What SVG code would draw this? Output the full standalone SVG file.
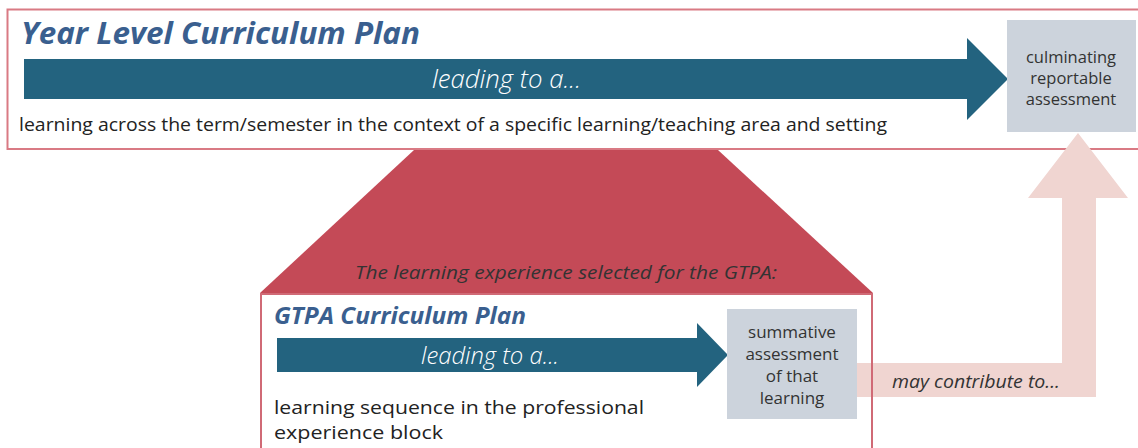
<svg xmlns="http://www.w3.org/2000/svg" width="1138" height="448" viewBox="0 0 1138 448">
<style>
.t{font-family:"Open Sans","Liberation Sans",sans-serif}
.title{font-weight:700;font-style:italic;fill:#3a5f8f}
.lead{font-style:italic;font-weight:300;fill:#ffffff}
.body{fill:#222}
.box{fill:#ccd3dc}
.boxt{fill:#333;text-anchor:middle}
.teal{fill:#23637f}
.pink{fill:#f0d5d1}
</style>
<rect width="1138" height="448" fill="#ffffff"/>
<g id="year-plan">
<rect x="7.5" y="9.5" width="1140" height="139.5" fill="#ffffff" stroke="#d97a84" stroke-width="2"/>
<text class="t title" x="21" y="44" font-size="30" textLength="399" lengthAdjust="spacingAndGlyphs">Year Level Curriculum Plan</text>
<text class="t body" x="19" y="131" font-size="18" textLength="868" lengthAdjust="spacingAndGlyphs">learning across the term/semester in the context of a specific learning/teaching area and setting</text>
</g>
<g id="connectors">
<path id="year-arrow" class="teal" d="M24 59 H967 V38 L1008 79 L967 120 V99 H24 Z"/>
<path id="contribute-arrow" class="pink" d="M845 363 H1062 V198 H1028 L1078 133 L1128 198 H1096 V397 H845 Z"/>
<path id="gtpa-arrow" class="teal" d="M277 338 H697 V323 L728 355 L697 387 V372 H277 Z"/>
</g>
<text class="t lead" x="432" y="88" font-size="25" textLength="149" lengthAdjust="spacingAndGlyphs">leading to a...</text>
<text class="t" x="892" y="388" font-size="18" font-style="italic" fill="#333" textLength="168" lengthAdjust="spacingAndGlyphs">may contribute to...</text>
<g id="selection">
<path d="M414 150 H718 L873 293 H260 Z" fill="#c44a57"/>
<text class="t" x="355" y="279" font-size="19" font-style="italic" fill="#333" textLength="422" lengthAdjust="spacingAndGlyphs">The learning experience selected for the GTPA:</text>
</g>
<g id="gtpa-plan">
<path d="M872 294 V448 M261 294 V448 M260 294 H873" fill="none" stroke="#d06a76" stroke-width="2"/>
<text class="t title" x="274" y="324" font-size="24" textLength="252" lengthAdjust="spacingAndGlyphs">GTPA Curriculum Plan</text>
<text class="t lead" x="421" y="364" font-size="24" textLength="138" lengthAdjust="spacingAndGlyphs">leading to a...</text>
<text class="t body" x="274" y="414" font-size="19" textLength="370" lengthAdjust="spacingAndGlyphs">learning sequence in the professional</text>
<text class="t body" x="274" y="439" font-size="19" textLength="169" lengthAdjust="spacingAndGlyphs">experience block</text>
</g>
<g id="culminating">
<rect class="box" x="1007" y="20" width="129" height="112"/>
<text class="t boxt" font-size="16.5"><tspan x="1071" y="63">culminating</tspan><tspan x="1071" y="84">reportable</tspan><tspan x="1071" y="105">assessment</tspan></text>
</g>
<g id="summative">
<rect class="box" x="727" y="309" width="130" height="110"/>
<text class="t boxt" font-size="17"><tspan x="792" y="338">summative</tspan><tspan x="792" y="360">assessment</tspan><tspan x="792" y="382">of that</tspan><tspan x="792" y="404">learning</tspan></text>
</g>
</svg>
